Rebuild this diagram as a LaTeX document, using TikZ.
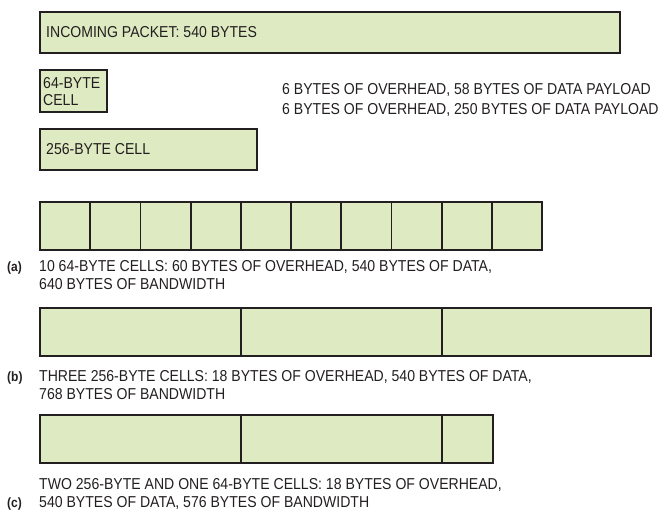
\documentclass[tikz,border=0pt]{standalone}
\usepackage{fontspec}
\setmainfont{Liberation Sans}[FakeStretch=0.89]
\definecolor{cellfill}{RGB}{222,234,193}
\definecolor{edge}{RGB}{35,31,32}
\definecolor{txt}{RGB}{35,31,32}
\begin{document}
\begin{tikzpicture}[x=1pt,y=-1pt,
  cellbox/.style={draw=edge,fill=cellfill,line width=1.8pt},
  lbl/.style={anchor=base west,inner sep=0pt,text=txt,font=\fontsize{15.8}{17.8}\selectfont},
  tag/.style={anchor=base west,inner sep=0pt,text=txt,font=\fontsize{13.5}{16}\selectfont\bfseries},
  caption/.style={anchor=north west,inner sep=0pt,text=txt,align=left,font=\fontsize{15.8}{17.8}\selectfont}]
\useasboundingbox (0,0) rectangle (663,510);
% top boxes
\draw[cellbox] (40,12) rectangle (620,53);
\node[lbl] (inc) at (46,38) {INCOMING PACKET: 540 BYTES};
\draw[cellbox] (40,70) rectangle (107,112);
\node[caption] (c64) at (43,76.8) {64-BYTE\\CELL};
\draw[cellbox] (40,129) rectangle (257,170);
\node[lbl] (c256) at (46,155) {256-BYTE CELL};
\node[lbl] (t1) at (282,95) {6 BYTES OF OVERHEAD, 58 BYTES OF DATA PAYLOAD};
\node[lbl] (t2) at (282,115) {6 BYTES OF OVERHEAD, 250 BYTES OF DATA PAYLOAD};
% row a
\foreach \i in {0,...,9} {
  \draw[cellbox] ({40+50.2*\i},202) rectangle ({40+50.2*(\i+1)},250);
}
\node[tag] (ta) at (7,271.5) {(a)};
\node[caption] (capa) at (39,260.5) {10 64-BYTE CELLS: 60 BYTES OF OVERHEAD, 540 BYTES OF DATA,\\640 BYTES OF BANDWIDTH};
% row b
\draw[cellbox] (40,308) rectangle (241,356);
\draw[cellbox] (241,308) rectangle (442,356);
\draw[cellbox] (442,308) rectangle (651,356);
\node[tag] (tb) at (7,381) {(b)};
\node[caption] (capb) at (39,370) {THREE 256-BYTE CELLS: 18 BYTES OF OVERHEAD, 540 BYTES OF DATA,\\768 BYTES OF BANDWIDTH};
% row c
\draw[cellbox] (40,415) rectangle (241,463);
\draw[cellbox] (241,415) rectangle (442,463);
\draw[cellbox] (442,415) rectangle (493,463);
\node[tag] (tc) at (7,507.5) {(c)};
\node[caption] (capc) at (39,478.7) {TWO 256-BYTE AND ONE 64-BYTE CELLS: 18 BYTES OF OVERHEAD,\\540 BYTES OF DATA, 576 BYTES OF BANDWIDTH};
\end{tikzpicture}
\end{document}
